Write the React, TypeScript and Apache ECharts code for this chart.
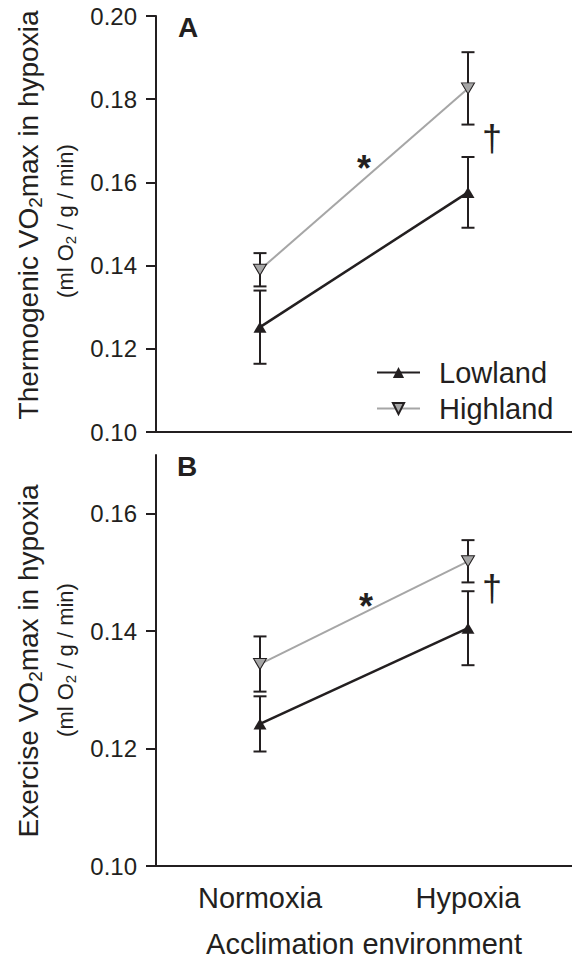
import React, { useEffect, useRef } from 'react';
import * as echarts from 'echarts';

const categories = ['Normoxia', 'Hypoxia'];
const thermoLowland = [0.1252, 0.1576];
const thermoLowlandErr = [0.0088, 0.0085];
const thermoHighland = [0.139, 0.1826];
const thermoHighlandErr = [0.004, 0.0087];
const exerciseLowland = [0.1242, 0.1405];
const exerciseLowlandErr = [0.0047, 0.0063];
const exerciseHighland = [0.1344, 0.1519];
const exerciseHighlandErr = [0.0047, 0.0036];
const thermoTicks = [0.1, 0.12, 0.14, 0.16, 0.18, 0.2];
const exerciseTicks = [0.1, 0.12, 0.14, 0.16];

const FONT = '"Liberation Sans", Arial, Helvetica, sans-serif';
const INK = '#231f20';
const GRAY = '#a6a6a6';

function yAxis(gridIndex: number, min: number, max: number, ticks: number[]) {
  return {
    gridIndex,
    type: 'value',
    min,
    max,
    axisLine: { show: true, lineStyle: { color: INK, width: 2 } },
    axisTick: { show: true, length: 10, lineStyle: { color: INK, width: 2 }, customValues: ticks },
    axisLabel: {
      customValues: ticks,
      formatter: (v: number) => v.toFixed(2),
      fontSize: 24,
      color: INK,
      fontFamily: FONT,
      margin: 19,
    },
    splitLine: { show: false },
  };
}

function lineSeries(name: string, data: number[], idx: number) {
  const low = name === 'Lowland';
  return {
    name,
    type: 'line',
    xAxisIndex: idx,
    yAxisIndex: idx,
    data,
    symbol: 'triangle',
    symbolSize: [13, 11],
    symbolRotate: low ? 0 : 180,
    lineStyle: { color: low ? INK : GRAY, width: low ? 2.5 : 2 },
    itemStyle: low ? { color: INK } : { color: GRAY, borderColor: INK, borderWidth: 1 },
    z: 4,
  };
}

function errSeries(id: string, values: number[], errs: number[], idx: number) {
  return {
    id,
    type: 'custom',
    xAxisIndex: idx,
    yAxisIndex: idx,
    silent: true,
    z: 3,
    data: values.map((v, i) => [i, v - errs[i], v + errs[i]]),
    renderItem: (params: any, api: any) => {
      const x = api.value(0);
      const lo = api.coord([x, api.value(1)]);
      const hi = api.coord([x, api.value(2)]);
      const w = 6.5;
      const style = { stroke: INK, lineWidth: 2 };
      return {
        type: 'group',
        children: [
          { type: 'line', shape: { x1: lo[0], y1: lo[1], x2: hi[0], y2: hi[1] }, style },
          { type: 'line', shape: { x1: lo[0] - w, y1: lo[1], x2: lo[0] + w, y2: lo[1] }, style },
          { type: 'line', shape: { x1: hi[0] - w, y1: hi[1], x2: hi[0] + w, y2: hi[1] }, style },
        ],
      };
    },
  };
}

function rotatedTitle(x: number, y: number, main: string, fs: number, small: boolean) {
  const parts = main.split('|');
  const text = `{t|${parts[0]}}{s|2}{t|${parts[1]}}`;
  const lh = small ? fs + 4 : fs + 6;
  return {
    type: 'text',
    x,
    y,
    rotation: Math.PI / 2,
    style: {
      text,
      align: 'center',
      verticalAlign: 'middle',
      fill: INK,
      fontFamily: FONT,
      fontSize: fs,
      rich: {
        t: { fontSize: fs, lineHeight: lh, fill: INK, fontFamily: FONT },
        s: { fontSize: Math.round(fs * 0.68), lineHeight: small ? 8 : 10, verticalAlign: 'bottom', fill: INK, fontFamily: FONT },
      },
    },
  };
}

function plainText(x: number, y: number, text: string, fs: number, bold: boolean) {
  return {
    type: 'text',
    x,
    y,
    style: {
      text,
      align: 'center',
      verticalAlign: 'middle',
      fill: INK,
      fontFamily: FONT,
      fontSize: fs,
      fontWeight: bold ? 'bold' : 'normal',
    },
  };
}

export default function App() {
  const ref = useRef<HTMLDivElement>(null);
  useEffect(() => {
    if (!ref.current) return;
    const chart = echarts.init(ref.current, undefined, { renderer: 'svg' });
    chart.setOption({
      animation: false,
      backgroundColor: '#ffffff',
      grid: [
        { left: 156, right: 0, top: 16, height: 416 },
        { left: 156, right: 0, top: 455, height: 417 },
      ],
      xAxis: [
        {
          gridIndex: 0,
          type: 'category',
          data: categories,
          boundaryGap: true,
          axisLine: { lineStyle: { color: INK, width: 2 } },
          axisTick: { alignWithLabel: true, length: 10, lineStyle: { color: INK, width: 2 } },
          axisLabel: { show: false },
        },
        {
          gridIndex: 1,
          type: 'category',
          data: categories,
          boundaryGap: true,
          axisLine: { lineStyle: { color: INK, width: 2 } },
          axisTick: { alignWithLabel: true, length: 10, lineStyle: { color: INK, width: 2 } },
          axisLabel: { fontSize: 29, color: INK, fontFamily: FONT, margin: 17 },
          name: 'Acclimation environment',
          nameLocation: 'middle',
          nameGap: 63,
          nameTextStyle: { fontSize: 29, color: INK, fontFamily: FONT },
        },
      ],
      yAxis: [yAxis(0, 0.1, 0.2, thermoTicks), yAxis(1, 0.1, 0.17, exerciseTicks)],
      legend: {
        data: ['Lowland', 'Highland'],
        orient: 'vertical',
        left: 376,
        top: 358,
        padding: 0,
        itemWidth: 43,
        itemHeight: 14,
        itemGap: 7,
        selectedMode: false,
        formatter: '{a|{name}}',
        textStyle: {
          color: INK,
          fontFamily: FONT,
          fontSize: 29,
          rich: { a: { fontSize: 29, lineHeight: 28, padding: [0, 0, 0, 14], color: INK, fontFamily: FONT } },
        },
      },
      series: [
        lineSeries('Lowland', thermoLowland, 0),
        lineSeries('Highland', thermoHighland, 0),
        lineSeries('Lowland', exerciseLowland, 1),
        lineSeries('Highland', exerciseHighland, 1),
        errSeries('eTL', thermoLowland, thermoLowlandErr, 0),
        errSeries('eTH', thermoHighland, thermoHighlandErr, 0),
        errSeries('eEL', exerciseLowland, exerciseLowlandErr, 1),
        errSeries('eEH', exerciseHighland, exerciseHighlandErr, 1),
      ],
      graphic: [
        rotatedTitle(28, 215, 'Thermogenic VO|max in hypoxia', 28, false),
        rotatedTitle(65, 221, '(ml O| / g / min)', 22, true),
        rotatedTitle(28, 661, 'Exercise VO|max in hypoxia', 28, false),
        rotatedTitle(65, 660, '(ml O| / g / min)', 22, true),
        plainText(188, 27, 'A', 28, true),
        plainText(187, 466, 'B', 28, true),
        plainText(364, 168, '*', 36, true),
        plainText(366, 606, '*', 36, true),
        plainText(492, 138, '\u2020', 36, false),
        plainText(492, 588, '\u2020', 36, false),
      ],
    });
    return () => chart.dispose();
  }, []);
  return <div ref={ref} style={{ position: 'absolute', left: 0, top: 0, width: 572, height: 959 }} />;
}
